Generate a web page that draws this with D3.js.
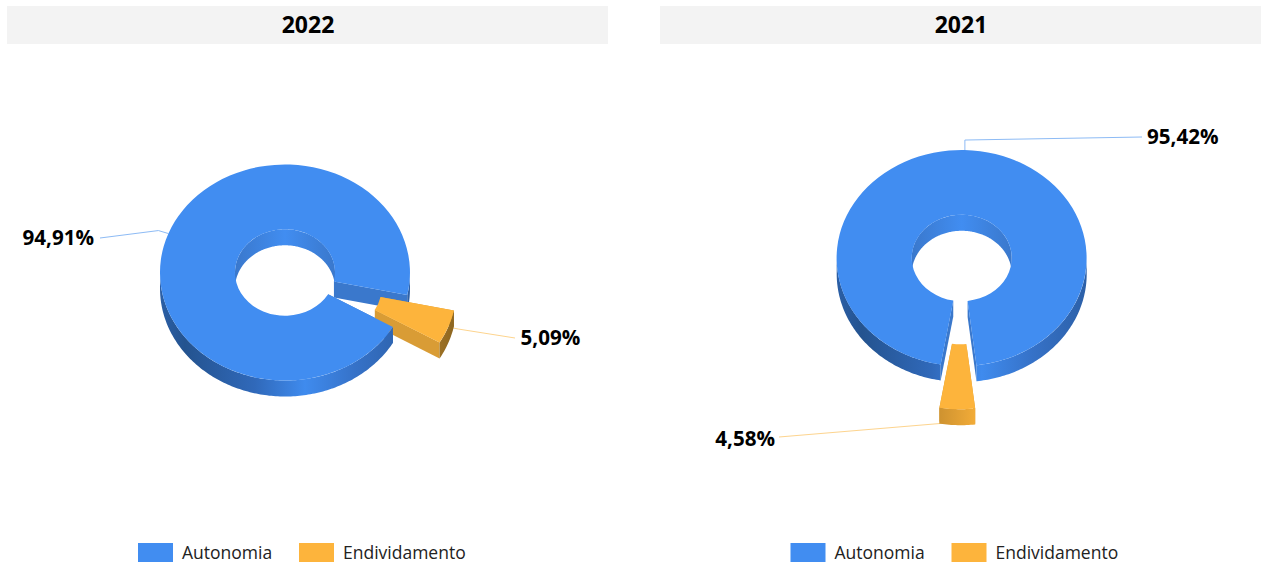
<!DOCTYPE html>
<html>
<head>
<meta charset="utf-8">
<script src="https://cdn.jsdelivr.net/npm/d3@7"></script>
<style>
  html, body { margin: 0; padding: 0; background: #fff; }
  svg { display: block; font-family: "Open Sans", sans-serif; }
</style>
</head>
<body>
<svg id="chart" width="1261" height="565"></svg>
<script>
const years = ["2022", "2021"];
const categories = ["Autonomia", "Endividamento"];
const values2022 = [94.91, 5.09];
const values2021 = [95.42, 4.58];
const seriesByPanel = [values2022, values2021];

// layout of the two panels, the values stay in the arrays above
const panels = [
  { bandX: 7, cx: 285, cy: 272.5, start: 120.3, legendX: [138, 299],
    elbows: [[-10, -3], [10, 2]], labelEnds: [[100, 238], [515, 338]], labelX: [94, 520.5], labelY: [237.5, 337.5] },
  { bandX: 660, cx: 961.7, cy: 258, start: 189.7, legendX: [790.5, 951.5],
    elbows: [[0, -10], [-13, 14]], labelEnds: [[1142, 137], [779, 437]], labelX: [1147, 775], labelY: [136.5, 438.5] }
];
const labelAnchor = [["end", "start"], ["start", "end"]];

const rx = 125, ry = 108, innerRatio = 0.4, depth = 16, explode = 50;
const fills = ["#418DF1", "#FDB43C"];
const sideFills = ["#3A78CC", "#D99C35"];
const leaderFills = ["#8DBBF5", "#FDD48E"];
const wallStops = [
  ["#2B5FA6", "#24538F", "#3069BA", "#3F8BEE", "#3672C8", "#2C60A8"],
  ["#8A6420", "#7F5A1C", "#C58C2E", "#F7AF39", "#C58C2E", "#8A6420"]
];
const stopAt = [0, 0.1, 0.38, 0.58, 0.78, 1];

const svg = d3.select("#chart");
const defs = svg.append("defs");
const rad = d => d * Math.PI / 180;
const deg = d => d * 180 / Math.PI;
const pct = d3.formatLocale({ decimal: ",", thousands: ".", grouping: [3], currency: ["", ""] }).format(".2f");

// clock angles, 0 at 12 o'clock, going clockwise
function ranges(a0, a1, from, to) {
  const out = [];
  for (let k = -1; k < 3; k++) {
    const lo = Math.max(a0, from + 360 * k), hi = Math.min(a1, to + 360 * k);
    if (hi > lo) out.push([lo, hi]);
  }
  return out;
}

panels.forEach((p, i) => {
  const values = seriesByPanel[i];
  const x = d3.scaleLinear().domain([-1, 1]).range([p.cx - rx, p.cx + rx]);
  const y = d3.scaleLinear().domain([-1, 1]).range([p.cy - ry, p.cy + ry]);
  const pt = (r, a, dy = 0) => [x(r * Math.sin(rad(a))), y(-r * Math.cos(rad(a))) + dy];
  const line = d3.line();

  const slices = d3.pie().sort(null)
    .startAngle(rad(p.start))
    .endAngle(rad(p.start) + 2 * Math.PI)(values)
    .map(s => ({ ...s, a0: deg(s.startAngle), a1: deg(s.endAngle), mid: deg((s.startAngle + s.endAngle) / 2) }));

  const offset = s => s.index === 1
    ? [explode * Math.sin(rad(s.mid)), -explode * (ry / rx) * Math.cos(rad(s.mid))]
    : [0, 0];

  const panel = svg.append("g");

  panel.append("rect")
    .attr("x", p.bandX).attr("y", 6)
    .attr("width", 601).attr("height", 38)
    .attr("fill", "#F3F3F3");
  panel.append("text")
    .attr("x", p.bandX + 301).attr("y", 25)
    .attr("dy", "0.36em")
    .attr("text-anchor", "middle")
    .attr("font-size", 23).attr("font-weight", 700)
    .text(years[i]);

  // gradients run across the whole ring
  wallStops.forEach((stops, c) => {
    const g = defs.append("linearGradient")
      .attr("id", `wall-${i}-${c}`)
      .attr("gradientUnits", "userSpaceOnUse")
      .attr("x1", x(-1)).attr("x2", x(1)).attr("y1", 0).attr("y2", 0);
    stops.forEach((col, k) => g.append("stop").attr("offset", stopAt[k]).attr("stop-color", col));
    const h = defs.append("linearGradient")
      .attr("id", `hole-${i}-${c}`)
      .attr("gradientUnits", "userSpaceOnUse")
      .attr("x1", x(-innerRatio)).attr("x2", x(innerRatio)).attr("y1", 0).attr("y2", 0);
    [sideFills[c], fills[c], sideFills[c]].forEach((col, k) => h.append("stop").attr("offset", k / 2).attr("stop-color", col));
  });

  // leader lines go under the slices
  slices.forEach(s => {
    const [ox, oy] = offset(s);
    const a = pt(1, s.mid);
    const anchor = [a[0] + ox, a[1] + oy];
    const elbow = [anchor[0] + p.elbows[s.index][0], anchor[1] + p.elbows[s.index][1]];
    panel.append("path")
      .attr("d", line([anchor, elbow, p.labelEnds[s.index]]))
      .attr("fill", "none")
      .attr("stroke", leaderFills[s.index])
      .attr("stroke-width", 1);
    panel.append("text")
      .attr("x", p.labelX[s.index]).attr("y", p.labelY[s.index])
      .attr("dy", "0.36em")
      .attr("text-anchor", labelAnchor[i][s.index])
      .attr("font-size", 20.6).attr("font-weight", 700)
      .text(pct(s.value) + "%");
  });

  const wallPath = (r, lo, hi) => {
    const top = d3.range(lo, hi, 1).concat(hi).map(a => pt(r, a));
    const bottom = top.map(q => [q[0], q[1] + depth]).reverse();
    return line(top.concat(bottom)) + "Z";
  };
  const cutPath = a => line([pt(innerRatio, a), pt(1, a), pt(1, a, depth), pt(innerRatio, a, depth)]) + "Z";
  const outerWalls = (g, s, keep) => {
    ranges(s.a0, s.a1, 90, 270).filter(keep).forEach(([lo, hi]) => {
      g.append("path").attr("d", wallPath(1, lo, hi)).attr("fill", `url(#wall-${i}-${s.index})`);
    });
  };

  const drawBack = s => {
    const [ox, oy] = offset(s);
    const g = panel.append("g").attr("transform", `translate(${ox},${oy})`);
    ranges(s.a0, s.a1, 270, 450).forEach(([lo, hi]) => {
      g.append("path").attr("d", wallPath(innerRatio, lo, hi)).attr("fill", `url(#hole-${i}-${s.index})`);
    });
    [s.a0, s.a1].forEach(a => {
      g.append("path").attr("d", cutPath(a)).attr("fill", sideFills[s.index]);
    });
    // the wall after the wrap ends next to the orange piece, so it stays behind it
    outerWalls(g, s, r => r[0] >= 360);
  };
  const drawFront = s => {
    const [ox, oy] = offset(s);
    const g = panel.append("g").attr("transform", `translate(${ox},${oy})`);
    outerWalls(g, s, r => r[0] < 360);
    const arc = d3.arc().innerRadius(innerRatio).outerRadius(1);
    g.append("path")
      .attr("transform", `translate(${p.cx},${p.cy}) scale(${rx},${ry})`)
      .attr("d", arc({ startAngle: s.startAngle, endAngle: s.endAngle }))
      .attr("fill", fills[s.index]);
  };

  // the orange piece sits over the blue cut face but behind the blue top
  drawBack(slices[0]);
  drawBack(slices[1]);
  drawFront(slices[1]);
  drawFront(slices[0]);

  // legend
  categories.forEach((name, k) => {
    panel.append("rect")
      .attr("x", p.legendX[k]).attr("y", 543)
      .attr("width", 35).attr("height", 19)
      .attr("fill", fills[k]);
    panel.append("text")
      .attr("x", p.legendX[k] + 44).attr("y", 553)
      .attr("dy", "0.36em")
      .attr("font-size", 17.5).attr("fill", "#222")
      .text(name);
  });
});
</script>
</body>
</html>
